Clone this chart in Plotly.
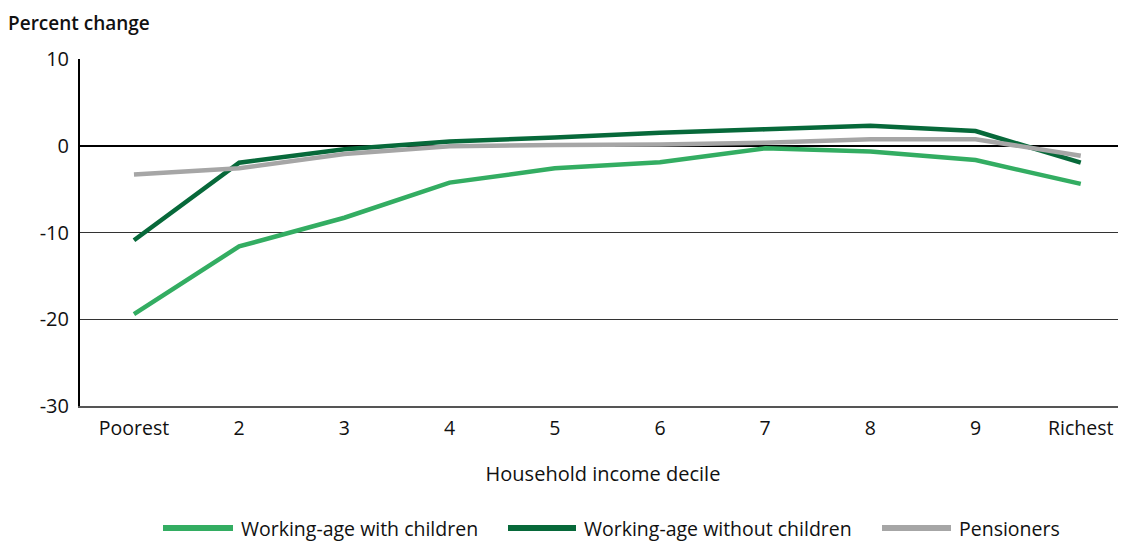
import plotly.graph_objects as go

categories = ["Poorest", "2", "3", "4", "5", "6", "7", "8", "9", "Richest"]
with_children = [-19.4, -11.6, -8.3, -4.25, -2.6, -1.9, -0.3, -0.65, -1.65, -4.4]
without_children = [-10.9, -1.95, -0.4, 0.5, 0.95, 1.5, 1.9, 2.3, 1.7, -1.95]
pensioners = [-3.3, -2.6, -0.95, -0.05, 0.1, 0.15, 0.35, 0.75, 0.75, -1.15]
series_names = ["Working-age with children", "Working-age without children", "Pensioners"]
colors = ["#33ad62", "#07693a", "#a6a6a6"]
y_ticks = [-30, -20, -10, 0, 10]
y_tick_text = ["-30", "-20", "-10", "0", "10"]

FONT = "Open Sans"
OFF = 8  # page body margin
W, H = 1126 - OFF, 543 - OFF
L, T, B = 80 - OFF, 59 - OFF, H - (406 - OFF)
PW = W - L
PH = H - T - B

fig = go.Figure()
for name, vals, col in zip(series_names, [with_children, without_children, pensioners], colors):
    fig.add_trace(go.Scatter(x=categories, y=vals, mode="lines", name=name,
                             line=dict(color=col, width=4.5), showlegend=False))

fig.update_layout(
    width=W, height=H,
    margin=dict(l=L, r=0, t=T, b=B),
    paper_bgcolor="white", plot_bgcolor="white",
    font=dict(family=FONT, size=18, color="#111111"),
    xaxis=dict(type="category", range=[-0.513, 9.43], showgrid=False,
               showline=True, linecolor="#555555", linewidth=1.5,
               ticks="", ticklabelstandoff=4, tickfont=dict(size=19.5),
               title=dict(text="Household income decile", standoff=27,
                          font=dict(size=20, weight=500))),
    yaxis=dict(range=[-30, 10], tickvals=y_ticks, ticktext=y_tick_text, showgrid=True,
               gridcolor="#333333", gridwidth=1,
               zeroline=True, zerolinecolor="#000000", zerolinewidth=2,
               showline=True, linecolor="#000000", linewidth=2,
               ticks="", ticklabelstandoff=5, tickfont=dict(size=20)),
)

fig.add_annotation(text="Percent change", xref="paper", yref="paper",
                   x=-L / PW, y=1 + 36 / PH, xanchor="left", yanchor="middle",
                   xshift=-2, showarrow=False, font=dict(size=19, weight=600))

# custom legend
legend_items = [(163, 233, 240), (508, 576, 583), (882, 951, 958)]
ly = -(528 - 406) / PH
for (x0, x1, tx), name, col in zip(legend_items, series_names, colors):
    fig.add_shape(type="line", xref="paper", yref="paper",
                  x0=(x0 - 80) / PW, x1=(x1 - 80) / PW, y0=ly, y1=ly,
                  line=dict(color=col, width=6))
    fig.add_annotation(text=name, xref="paper", yref="paper",
                       x=(tx - 80) / PW, y=ly, xanchor="left", yanchor="middle",
                       borderpad=0, showarrow=False, font=dict(size=19.5, weight=500))

fig.write_html("out.html")
